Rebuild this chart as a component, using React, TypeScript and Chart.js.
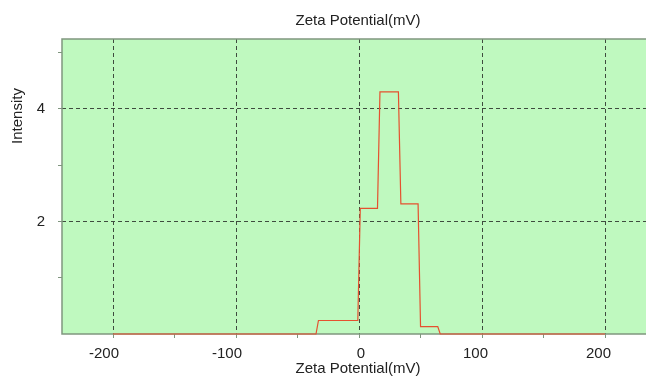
import { useEffect, useRef } from "react";
import { Chart, registerables } from "chart.js";

Chart.register(...registerables);

const zetaPotential = [-200, -35, -33, -1, 1, 15, 17, 32, 34, 48, 50, 64, 66, 200];
const intensity = [0, 0, 0.24, 0.24, 2.23, 2.23, 4.3, 4.3, 2.31, 2.31, 0.13, 0.13, 0, 0];
const xTickValues = [-200, -150, -100, -50, 0, 50, 100, 150, 200];
const xLabelValues = [-200, -100, 0, 100, 200];
const yTickValues = [0, 1, 2, 3, 4, 5];
const yLabelValues = [2, 4];

const TITLE = "Zeta Potential(mV)";
const X_TITLE = "Zeta Potential(mV)";
const Y_TITLE = "Intensity";

const FAMILY = "'Liberation Sans', Arial, sans-serif";
const FONT = "15px " + FAMILY;
const GRID = "#3e4c3e";
const BORDER = "#80967f";
const BG = "#bff9bf";

const framePlugin = {
  id: "frame",
  beforeDraw(chart: any) {
    const { ctx, chartArea: a } = chart;
    ctx.save();
    ctx.fillStyle = "#ffffff";
    ctx.fillRect(0, 0, chart.width, chart.height);
    ctx.fillStyle = BG;
    ctx.fillRect(a.left, a.top, a.right - a.left, a.bottom - a.top);
    ctx.restore();
  },
  beforeDatasetsDraw(chart: any) {
    const { ctx, chartArea: a } = chart;
    ctx.save();
    ctx.strokeStyle = BORDER;
    ctx.lineWidth = 1.5;
    ctx.beginPath();
    ctx.moveTo(chart.width + 2, a.top);
    ctx.lineTo(a.left, a.top);
    ctx.lineTo(a.left, a.bottom);
    ctx.lineTo(chart.width + 2, a.bottom);
    ctx.stroke();
    ctx.restore();
  },
  afterDraw(chart: any) {
    const { ctx } = chart;
    ctx.save();
    ctx.fillStyle = "#222222";
    ctx.font = FONT;
    ctx.textAlign = "center";
    ctx.textBaseline = "middle";
    ctx.fillText(TITLE, 358, 21);
    ctx.fillText(X_TITLE, 358, 369);
    ctx.translate(18, 116);
    ctx.rotate(-Math.PI / 2);
    ctx.fillText(Y_TITLE, 0, 0);
    ctx.restore();
  },
};

export default function App() {
  const ref = useRef<HTMLCanvasElement>(null);
  useEffect(() => {
    if (!ref.current) return;
    const chart = new Chart(ref.current, {
      type: "line",
      data: {
        datasets: [
          {
            data: zetaPotential.map((x, i) => ({ x, y: intensity[i] })),
            borderColor: "#e5512f",
            borderWidth: 1.2,
            pointRadius: 0,
            tension: 0,
            fill: false,
            clip: 3,
          },
        ],
      },
      options: {
        animation: false,
        responsive: false,
        devicePixelRatio: 1,
        layout: { padding: { top: 39, left: 0, right: 0, bottom: 0 } },
        plugins: { legend: { display: false }, tooltip: { enabled: false }, title: { display: false } },
        scales: {
          x: {
            type: "linear",
            min: -241.5,
            max: 233.3,
            afterBuildTicks: (s: any) => {
              s.ticks = xTickValues.map((v) => ({ value: v }));
            },
            afterFit: (s: any) => {
              s.height = 45;
              s.paddingLeft = 0;
              s.paddingRight = 0;
            },
            ticks: {
              font: { family: FAMILY, size: 15 },
              color: "#222222",
              padding: 7,
              maxRotation: 0,
              autoSkip: false,
              align: "end",
              labelOffset: 6,
              callback: (v: any) => (xLabelValues.includes(Number(v)) ? String(v) : ""),
            },
            grid: {
              color: (c: any) => (xLabelValues.includes(c.tick?.value) ? GRID : "rgba(0,0,0,0)"),
              tickColor: BORDER,
              tickLength: 4,
              lineWidth: 1,
            },
            border: { display: false, dash: [4, 3] },
          },
          y: {
            type: "linear",
            min: 0,
            max: 5.24,
            afterBuildTicks: (s: any) => {
              s.ticks = yTickValues.map((v) => ({ value: v }));
            },
            afterFit: (s: any) => {
              s.width = 62;
            },
            ticks: {
              font: { family: FAMILY, size: 15 },
              color: "#222222",
              padding: 13,
              autoSkip: false,
              callback: (v: any) => (yLabelValues.includes(Number(v)) ? String(v) : ""),
            },
            grid: {
              color: (c: any) => (yLabelValues.includes(c.tick?.value) ? GRID : "rgba(0,0,0,0)"),
              tickColor: (c: any) => (c.tick?.value === 0 ? "rgba(0,0,0,0)" : BORDER),
              tickLength: 4,
              lineWidth: 1,
            },
            border: { display: false, dash: [4, 3] },
          },
        },
      },
      plugins: [framePlugin],
    });
    return () => chart.destroy();
  }, []);
  return (
    <div style={{ position: "fixed", left: 0, top: 0, width: 646, height: 379 }}>
      <canvas ref={ref} width={646} height={379} style={{ width: 646, height: 379, display: "block" }} />
    </div>
  );
}
